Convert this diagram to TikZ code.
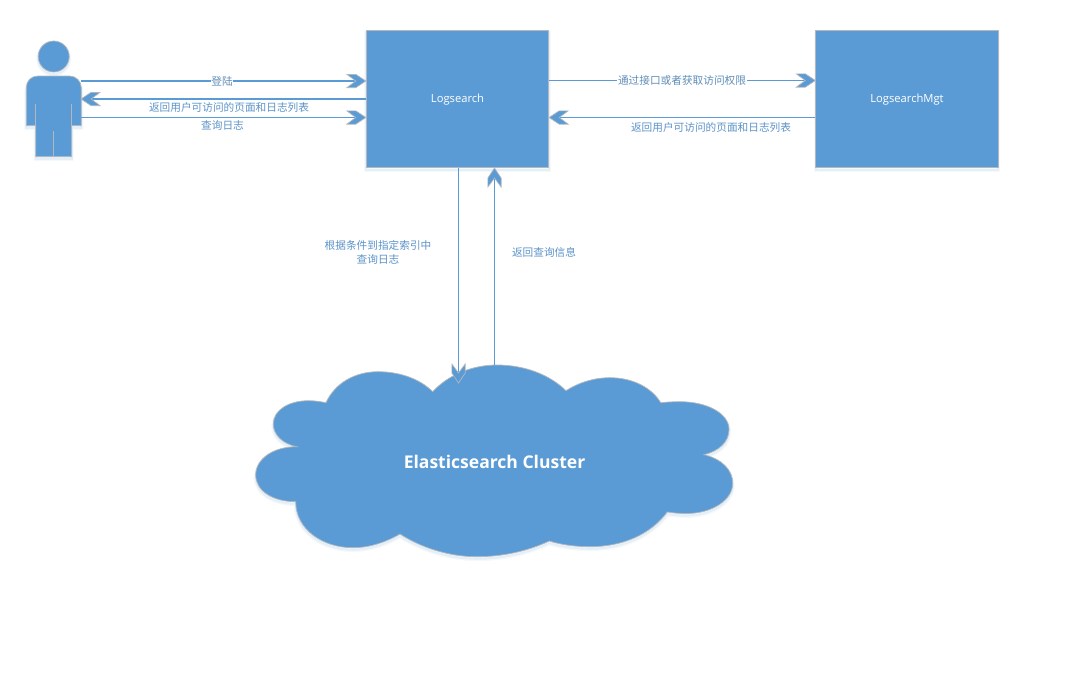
\documentclass[tikz,border=0pt]{standalone}
\usepackage{fontspec}
\setmainfont{Open Sans}
\newfontfamily\cjk{Noto Sans CJK SC}
\usetikzlibrary{arrows.meta,calc}
\definecolor{bluefill}{HTML}{5B9BD5}
\definecolor{edgegray}{HTML}{B4B8BC}
\definecolor{shadowblue}{HTML}{5B9BD5}
\definecolor{labelblue}{HTML}{5C93C8}
\definecolor{labeldark}{HTML}{5F8DB8}
\pgfdeclarearrow{
  name=chevron,
  setup code={\pgfarrowssettipend{0pt}\pgfarrowssetlineend{-7.5pt}\pgfarrowssetbackend{-14.25pt}\pgfarrowssetvisualbackend{-7.5pt}},
  drawing code={
    \pgfsetlinewidth{0.5pt}\pgfsetdash{}{0pt}
    \pgfsetfillcolor{bluefill}\pgfsetstrokecolor{edgegray}
    \pgfpathmoveto{\pgfpoint{0pt}{0pt}}
    \pgfpathlineto{\pgfpoint{-7.5pt}{5pt}}
    \pgfpathlineto{\pgfpoint{-14.25pt}{5pt}}
    \pgfpathlineto{\pgfpoint{-7.5pt}{0pt}}
    \pgfpathlineto{\pgfpoint{-14.25pt}{-5pt}}
    \pgfpathlineto{\pgfpoint{-7.5pt}{-5pt}}
    \pgfpathclose
    \pgfusepathqfillstroke
  },
  defaults={}
}
\tikzset{
  softshadow/.style={
    preaction={draw=shadowblue,draw opacity=.06,line width=3pt,fill=none,transform canvas={yshift=-1.8pt}},
    preaction={draw=shadowblue,draw opacity=.10,line width=1.6pt,fill=none,transform canvas={yshift=-1.5pt}}},
  shape fill/.style={fill=bluefill,draw=edgegray,line width=.55pt,softshadow},
  boxnode/.style={shape fill,rectangle,inner sep=0pt,minimum width=137pt,minimum height=103pt,
    text=white,font=\fontsize{8.4}{10}\selectfont},
  link/.style={draw=bluefill,line width=.78pt,-{chevron}},
  lbl/.style={text=labelblue,inner sep=0pt,align=center,font=\cjk\fontsize{8}{10.5}\selectfont},
  lblonline/.style={text=labeldark,fill=white,inner sep=.6pt,font=\cjk\fontsize{8}{10.5}\selectfont},
}
\begin{document}
\begin{tikzpicture}[x=0.75pt,y=-0.75pt]
\useasboundingbox (0,0) rectangle (1069,690);
\fill[white] (0,0) rectangle (1069,690);

% boxes
\node[boxnode] (logsearch) at (457.5,99) {\raisebox{-2.8pt}[0pt][0pt]{Logsearch}};
\node[boxnode] (mgt) at (907,99) {\raisebox{-2.8pt}[0pt][0pt]{LogsearchMgt}};

% person
\path[shape fill] (53.7,56.5) circle[radius=15.5];
\path[shape fill]
  (26.3,88) .. controls (26.3,81) and (31,76) .. (38,76) -- (69.5,76)
  .. controls (76,76) and (81.3,81) .. (81.3,88) -- (81.3,125.7) -- (71.7,125.7) -- (71.7,156.7)
  -- (35.7,156.7) -- (35.7,125.7) -- (26.3,125.7) -- cycle;
\draw[edgegray,line width=.5pt] (35.7,104) -- (35.7,125.7) (71.7,104) -- (71.7,125.7) (53.7,131) -- (53.7,156.7);
\node[inner sep=0pt,minimum width=41.25pt,minimum height=60pt] (person) at (53.3,116) {};

% cloud
\path[shape fill] (326,402.7)
  .. controls (335,383) and (355,371.7) .. (378,371.7)
  .. controls (400,371.7) and (420,379) .. (432.7,391.7)
  .. controls (448,375) and (472,365) .. (497,365)
  .. controls (525,365) and (550,375) .. (566,390.7)
  .. controls (578,383) and (593,377.7) .. (610,377.7)
  .. controls (633,377.7) and (652,388) .. (660.7,402.7)
  .. controls (667,402) and (673,401.7) .. (680,401.7)
  .. controls (708,401.7) and (729,414) .. (729,429.3)
  .. controls (729,442) and (719,451) .. (704,454.7)
  .. controls (722,459) and (732.7,470) .. (732.7,483.3)
  .. controls (732.7,500) and (712,513.5) .. (686.7,513.5)
  .. controls (680,513.5) and (673,513) .. (667.3,512)
  .. controls (650,535) and (622,546.7) .. (590,546.7)
  .. controls (575,546.7) and (560,544.5) .. (549.3,541)
  .. controls (528,551) and (503,556.7) .. (476.7,556.7)
  .. controls (448,556.7) and (420,547) .. (400,534)
  .. controls (386,542) and (370,547.7) .. (353,547.7)
  .. controls (322,547.7) and (295.7,529) .. (295.7,501.7)
  .. controls (273,501.7) and (255.7,491) .. (255.7,475)
  .. controls (255.7,459) and (273,446.7) .. (296.7,446.7)
  .. controls (283,444) and (273.3,435) .. (273.3,424)
  .. controls (273.3,410) and (289,400.7) .. (308.3,400.7)
  .. controls (315,400.7) and (320,401.5) .. (326,402.7) -- cycle;
\node[text=white,inner sep=0pt,font=\fontsize{13.15}{15}\selectfont\bfseries] (cloud) at (494.5,461.7) {Elasticsearch Cluster};

% levels and free ends
\coordinate (yA) at (0,81);
\coordinate (yB) at (0,99);
\coordinate (yC) at (0,117.5);
\coordinate (yD) at (0,80.5);
\coordinate (xA) at (458.5,0);
\coordinate (xB) at (494.5,0);
\coordinate (cloudin) at (458.5,383);
\coordinate (cloudtop) at (494.5,365);

% connectors
\draw[link] (person.east |- yA) -- (logsearch.west |- yA);
\draw[link] (logsearch.west |- yB) -- (person.east |- yB);
\draw[link] (person.east |- yC) -- (logsearch.west |- yC);
\draw[link] (logsearch.east |- yD) -- (mgt.west |- yD);
\draw[link] (mgt.west |- yC) -- (logsearch.east |- yC);
\draw[link] (xA |- logsearch.south) -- (cloudin);
\draw[link] (cloudtop) -- (xB |- logsearch.south);

% labels
\node[lblonline] (l1) at (222,81) {登陆};
\node[lbl] (l2) at (229,107) {返回用户可访问的页面和日志列表};
\node[lbl] (l3) at (222.5,125) {查询日志};
\node[lblonline] (l4) at (682,80) {通过接口或者获取访问权限};
\node[lbl] (l5) at (711,127) {返回用户可访问的页面和日志列表};
\node[lbl] (l6) at (378,252) {根据条件到指定索引中\\查询日志};
\node[lbl] (l7) at (544,252) {返回查询信息};
\end{tikzpicture}
\end{document}
